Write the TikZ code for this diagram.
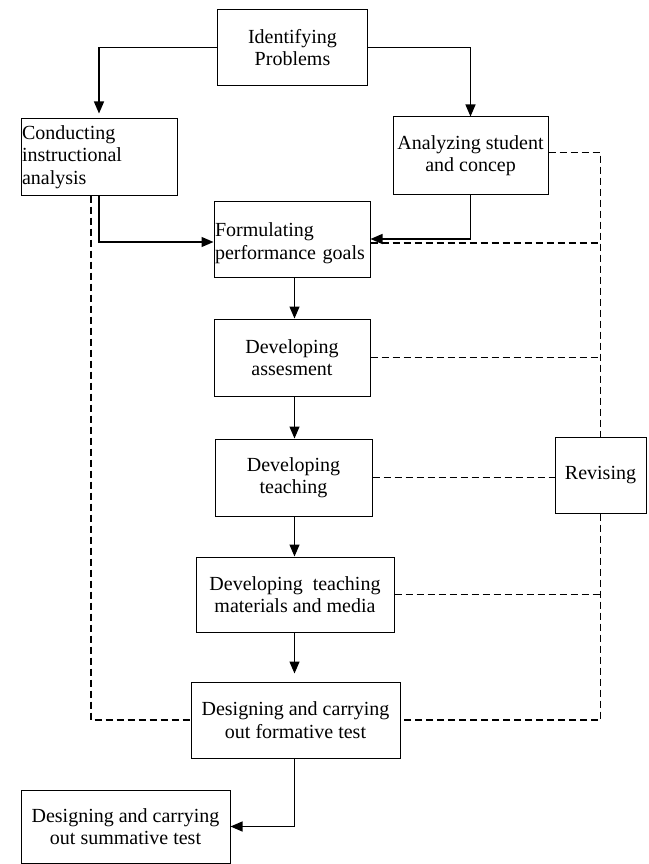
\documentclass[tikz,border=0pt]{standalone}
\usepackage{fontspec}
\setmainfont{Liberation Serif}
\usetikzlibrary{arrows.meta}
\begin{document}
\begin{tikzpicture}[x=1pt,y=-1pt,
  box/.style={draw,line width=1pt,inner sep=1pt,font=\fontsize{20}{22.5}\selectfont,align=center},
  lbox/.style={box,align=left},
  arr/.style={line width=1.3pt,-{Triangle[length=12pt,width=10pt]}},
  dsh/.style={line width=1.2pt,dash pattern=on 7pt off 4pt}]
\useasboundingbox (0,0) rectangle (648,864);
\node[box,minimum width=150pt,minimum height=76pt] (id) at (292.5,47.5) {Identifying\\Problems};
\node[lbox,text width=154pt,minimum height=76pt] (cond) at (99,157) {Conducting\\instructional\\analysis};
\node[box,minimum width=155pt,minimum height=77pt] (ana) at (470.5,155.5) {Analyzing student\\and concep};
\node[lbox,text width=154pt,minimum height=76pt,text depth=18pt] (form) at (292,239) {Formulating\\performance goals};
\node[box,minimum width=156pt,minimum height=77pt] (asm) at (292,357.5) {Developing\\assesment};
\node[box,minimum width=157pt,minimum height=77pt] (tch) at (293.5,477.5) {Developing\\teaching};
\node[box,minimum width=198pt,minimum height=75pt] (mat) at (295,594.5) {Developing\ \ teaching\\materials and media};
\node[box,minimum width=209pt,minimum height=76pt] (fmt) at (295.5,720) {Designing and carrying\\out formative test};
\node[box,minimum width=209pt,minimum height=73pt] (sum) at (125.5,826.5) {Designing and carrying\\out summative test};
\node[box,minimum width=91pt,minimum height=76pt] (rev) at (600.5,475) {Revising};
\coordinate (vx) at (294.5,0);
% solid connectors
\draw[arr,shorten >=5pt] (id.west) -| (cond.north);
\draw[arr] (id.east) -| (ana.north);
\coordinate (fw) at ([yshift=-3pt]form.west);
\draw[arr] (cond.south) |- (fw);
\draw[arr] (ana.south) |- (form.east);
\draw[arr] (form.south -| vx) -- (asm.north -| vx);
\draw[arr] (asm.south -| vx) -- (tch.north -| vx);
\draw[arr] (tch.south -| vx) -- (mat.north -| vx);
\draw[arr,shorten >=8pt] (mat.south -| vx) -- (fmt.north -| vx);
\draw[arr] (fmt.south -| vx) |- (sum.east);
% dashed feedback
\coordinate (cs) at ([xshift=-8pt]cond.south);
\draw[dsh] (cs) |- (fmt.west);
\coordinate (ae) at ([yshift=3pt]ana.east);
\draw[dsh] (ae) -| (rev.north);
\coordinate (fe) at ([yshift=-4pt]form.east);
\draw[dsh] (fe) -- (fe -| rev.north);
\draw[dsh] (asm.east) -- (asm.east -| rev.north);
\draw[dsh] (tch.east) -- (tch.east -| rev.west);
\draw[dsh] (mat.east) -- (mat.east -| rev.north);
\draw[dsh] (rev.south) |- (fmt.east);
\end{tikzpicture}
\end{document}
